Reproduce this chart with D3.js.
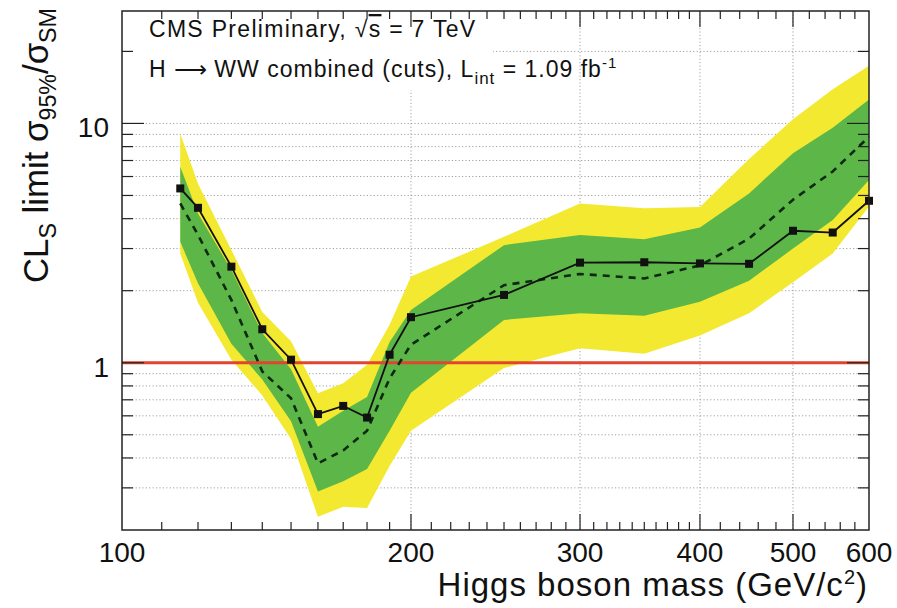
<!DOCTYPE html>
<html><head><meta charset="utf-8">
<script src="https://cdn.jsdelivr.net/npm/d3@7"></script>
<style>
body{margin:0;background:#fff}
svg{display:block}
text{font-family:"Liberation Sans",Arial,Helvetica,sans-serif;fill:#111}
</style>
</head><body>
<svg id="c" width="897" height="608"></svg>
<script>
// ---- data ----
const mass      = [115, 120, 130, 140, 150, 160, 170, 180, 190, 200, 250, 300, 350, 400, 450, 500, 550, 600];
const observed  = [5.35,4.44,2.52,1.38,1.03,0.61,0.66,0.59,1.08,1.55,1.92,2.62,2.63,2.60,2.59,3.56,3.50,4.75];
const expected  = [4.63,3.42,1.83,0.92,0.71,0.38,0.43,0.52,0.86,1.19,2.11,2.35,2.25,2.55,3.30,4.80,6.30,8.80];
const band1Up   = [6.59,4.20,2.44,1.33,0.94,0.54,0.63,0.72,1.22,1.66,3.10,3.42,3.28,3.67,5.10,7.50,9.60,12.6];
const band1Down = [3.20,2.15,1.20,0.85,0.57,0.29,0.32,0.36,0.52,0.75,1.51,1.61,1.57,1.80,2.20,3.00,3.95,5.80];
const band2Up   = [9.08,5.60,2.96,1.63,1.23,0.745,0.82,0.98,1.44,2.29,3.36,4.63,4.42,4.48,7.10,10.4,13.9,17.4];
const band2Down = [2.86,1.78,1.03,0.73,0.48,0.227,0.25,0.247,0.37,0.52,0.95,1.15,1.09,1.30,1.61,2.17,2.86,4.50];
const smLine    = [1];
const xTickLabels = [100, 200, 300, 400, 500, 600];
const xMinorTicks = [110,120,130,140,150,160,170,180,190,210,220,230,240,250,260,270,280,290,
                     310,320,330,340,350,360,370,380,390,420,440,460,480,520,540,560,580];
const yTickLabels = [1, 10];
const yMinorTicks = [0.3,0.4,0.5,0.6,0.7,0.8,0.9,2,3,4,5,6,7,8,9,20];
const xGrid = [200, 300, 400, 500];

// ---- layout ----
const L = 122, R = 869, T = 11, B = 530;
const svg = d3.select('#c');
const x = d3.scaleLog().domain([100, 600]).range([L, R]);
const y = d3.scaleLog().domain([0.2, 29.5]).range([B, T]);

svg.append('rect').attr('width', 897).attr('height', 608).attr('fill', '#fff');

// grid
const grid = svg.append('g').attr('stroke', '#a0a0a0').attr('stroke-width', 1).attr('stroke-dasharray', '1.2,2.2');
grid.selectAll('line.h').data(yMinorTicks.concat(yTickLabels)).enter().append('line')
  .attr('x1', L).attr('x2', R).attr('y1', d => y(d)).attr('y2', d => y(d));
grid.selectAll('line.v').data(xGrid).enter().append('line')
  .attr('x1', d => x(d)).attr('x2', d => x(d)).attr('y1', T).attr('y2', B);

// legend box (white)
svg.append('rect').attr('x', L + 1).attr('y', T + 1).attr('width', 370).attr('height', 78).attr('fill', '#fff');

const rows = mass.map((m, i) => ({m, obs: observed[i], exp: expected[i],
  u1: band1Up[i], d1: band1Down[i], u2: band2Up[i], d2: band2Down[i]}));

const area = (lo, hi) => d3.area().x(d => x(d.m)).y0(d => y(d[lo])).y1(d => y(d[hi]));
svg.append('path').datum(rows).attr('d', area('d2', 'u2')).attr('fill', '#f3e930');
svg.append('path').datum(rows).attr('d', area('d1', 'u1')).attr('fill', '#5cb648');

// SM line
svg.selectAll('line.sm').data(smLine).enter().append('line')
  .attr('x1', L).attr('x2', R).attr('y1', d => y(d)).attr('y2', d => y(d))
  .attr('stroke', '#e2452f').attr('stroke-width', 3);

// expected
svg.append('path').datum(rows)
  .attr('d', d3.line().x(d => x(d.m)).y(d => y(d.exp)))
  .attr('fill', 'none').attr('stroke', '#0d2a10').attr('stroke-width', 2.6).attr('stroke-dasharray', '7,6');

// observed
svg.append('path').datum(rows)
  .attr('d', d3.line().x(d => x(d.m)).y(d => y(d.obs)))
  .attr('fill', 'none').attr('stroke', '#111').attr('stroke-width', 1.8);
svg.selectAll('rect.mk').data(rows).enter().append('rect')
  .attr('x', d => x(d.m) - 4).attr('y', d => y(d.obs) - 4).attr('width', 8).attr('height', 8).attr('fill', '#111');

// frame
svg.append('rect').attr('x', L).attr('y', T).attr('width', R - L).attr('height', B - T)
  .attr('fill', 'none').attr('stroke', '#222').attr('stroke-width', 1.5);

// ticks
const tk = svg.append('g').attr('stroke', '#222').attr('stroke-width', 1.2);
function hTicks(vals, len) {
  vals.forEach(v => {
    tk.append('line').attr('x1', L).attr('x2', L + len).attr('y1', y(v)).attr('y2', y(v));
    tk.append('line').attr('x1', R).attr('x2', R - len).attr('y1', y(v)).attr('y2', y(v));
  });
}
function vTicks(vals, len) {
  vals.forEach(v => {
    tk.append('line').attr('y1', B).attr('y2', B - len).attr('x1', x(v)).attr('x2', x(v));
    tk.append('line').attr('y1', T).attr('y2', T + len).attr('x1', x(v)).attr('x2', x(v));
  });
}
hTicks(yMinorTicks, 11);
hTicks(yTickLabels, 22);
vTicks(xMinorTicks, 8);
vTicks(xTickLabels.slice(1, -1), 16);

// tick labels
svg.selectAll('text.xl').data(xTickLabels).enter().append('text')
  .attr('x', d => x(d)).attr('y', 562).attr('text-anchor', 'middle')
  .style('font-size', '28px').text(d => d);
svg.selectAll('text.yl').data(yTickLabels).enter().append('text')
  .attr('x', 109).attr('y', d => y(d) + 14).attr('text-anchor', 'end')
  .style('font-size', '28px').text(d => d);

// axis titles
const xt = svg.append('text').attr('x', 868).attr('y', 596).attr('text-anchor', 'end')
  .style('font-size', '33px').style('letter-spacing', '1px');
xt.append('tspan').text('Higgs boson mass (GeV/c');
xt.append('tspan').attr('dy', -12).style('font-size', '20px').text('2');
xt.append('tspan').attr('dy', 12).text(')');

const yt = svg.append('text').attr('transform', 'translate(48,283) rotate(-90)').style('font-size', '36px');
yt.append('tspan').text('CL');
yt.append('tspan').attr('dy', 8).style('font-size', '24px').text('S');
yt.append('tspan').attr('dy', -8).text(' limit σ');
yt.append('tspan').attr('dy', 8).style('font-size', '24px').text('95%');
yt.append('tspan').attr('dy', -8).text('/σ');
yt.append('tspan').attr('dy', 8).style('font-size', '24px').text('SM');
// fit the title to the reference length (~275 px)
const ytLen = yt.node().getComputedTextLength();
const k = 275 / ytLen;
yt.style('font-size', (36 * k) + 'px');
yt.selectAll('tspan').each(function() {
  const s = d3.select(this);
  const fs = this.style.fontSize;
  if (fs) s.style('font-size', (parseFloat(fs) * k) + 'px');
  const dy = s.attr('dy');
  if (dy) s.attr('dy', parseFloat(dy) * k);
});

// legend text
const t1 = svg.append('text').attr('x', 149).attr('y', 37).style('font-size', '23px').style('letter-spacing', '1.3px');
t1.append('tspan').text('CMS Preliminary, √');
t1.append('tspan').style('text-decoration', 'overline').text('s');
t1.append('tspan').text(' = 7 TeV');
const t2 = svg.append('text').attr('x', 149).attr('y', 77).style('font-size', '23px').style('letter-spacing', '1px');
t2.append('tspan').text('H ');
t2.append('tspan').style('font-family', '"DejaVu Sans", sans-serif').style('letter-spacing', '0px').text('⟶');
t2.append('tspan').text(' WW combined (cuts), L');
t2.append('tspan').attr('dy', 7).style('font-size', '17px').text('int');
t2.append('tspan').attr('dy', -7).text(' = 1.09 fb');
t2.append('tspan').attr('dy', -9).style('font-size', '15px').text('-1');
</script>
</body></html>
